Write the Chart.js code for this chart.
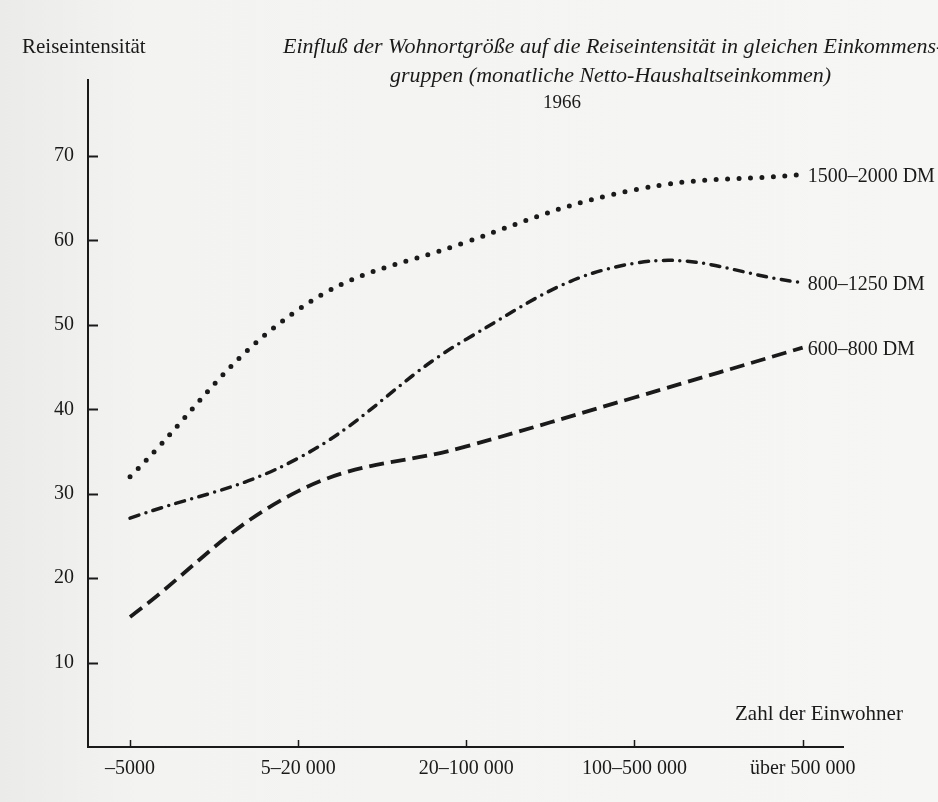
<!DOCTYPE html>
<html>
<head>
<meta charset="utf-8">
<script src="https://cdn.jsdelivr.net/npm/chart.js@4.4.1/dist/chart.umd.min.js"></script>
<style>
html, body { margin: 0; padding: 0; background: #f2f2f0; }
#wrap { width: 938px; height: 802px; }
</style>
</head>
<body>
<div id="wrap"><canvas id="chart" width="938" height="802"></canvas></div>
<script>
// categories: size of town (inhabitants)
var categories = ['\u20135000', '5\u201320 000', '20\u2013100 000', '100\u2013500 000', '\u00fcber 500 000'];
// income groups (monthly net household income)
var groups = ['1500\u20132000 DM', '800\u20131250 DM', '600\u2013800 DM'];
var values1500 = [32.0, 51.8, 59.8, 66.0, 67.8];
var values800 = [27.1, 34.2, 48.3, 57.3, 55.0];
var values600 = [15.4, 30.3, 35.6, 41.4, 47.3];
var yTicks = [10, 20, 30, 40, 50, 60, 70];

var ink = '#1a1a1a';
var serif = '"Liberation Serif", "DejaVu Serif", serif';

function points(vals) {
	return vals.map(function (v, i) { return { x: i, y: v }; });
}

var paperText = {
	id: 'paperText',
	beforeDraw: function (chart) {
		var ctx = chart.ctx, g = ctx.createLinearGradient(0, 0, chart.width, 0);
		g.addColorStop(0, '#ebebea');
		g.addColorStop(0.15, '#f3f3f2');
		g.addColorStop(1, '#f6f6f5');
		ctx.save();
		ctx.fillStyle = g;
		ctx.fillRect(0, 0, chart.width, chart.height);
		ctx.restore();
	},
	afterDraw: function (chart) {
		var ctx = chart.ctx, area = chart.chartArea,
			xs = chart.scales.x, ys = chart.scales.y;
		ctx.save();
		ctx.strokeStyle = ink;
		ctx.fillStyle = ink;
		// inward tick marks
		ctx.lineWidth = 2;
		yTicks.forEach(function (v) {
			var y = Math.round(ys.getPixelForValue(v)) + 0.5;
			ctx.beginPath(); ctx.moveTo(area.left, y); ctx.lineTo(area.left + 10, y); ctx.stroke();
		});
		ctx.lineWidth = 1.5;
		categories.forEach(function (c, i) {
			var x = Math.round(xs.getPixelForValue(i)) + 0.5;
			ctx.beginPath(); ctx.moveTo(x, area.bottom); ctx.lineTo(x, area.bottom - 7); ctx.stroke();
		});
		// series labels at the line ends
		ctx.font = '20px ' + serif;
		ctx.textBaseline = 'middle';
		ctx.textAlign = 'left';
		chart.data.datasets.forEach(function (ds, i) {
			var meta = chart.getDatasetMeta(i), last = meta.data[meta.data.length - 1];
			ctx.fillText(ds.label, last.x + 5, last.y + 2);
		});
		// axis titles
		ctx.font = '21px ' + serif;
		ctx.fillText('Reiseintensit\u00e4t', 22, 47);
		ctx.fillText('Zahl der Einwohner', 735, 714);
		// heading
		ctx.font = 'italic 22px ' + serif;
		ctx.fillText('Einflu\u00df der Wohnortgr\u00f6\u00dfe auf die Reiseintensit\u00e4t in gleichen Einkommens-', 283, 47);
		ctx.fillText('gruppen (monatliche Netto-Haushaltseinkommen)', 390, 76);
		ctx.font = '19px ' + serif;
		ctx.textAlign = 'center';
		ctx.fillText('1966', 562, 103);
		ctx.restore();
	}
};

Chart.defaults.font.family = serif;
Chart.defaults.font.size = 20;
Chart.defaults.color = ink;

new Chart(document.getElementById('chart'), {
	type: 'line',
	data: {
		datasets: [
			{
				label: groups[0],
				data: points(values1500),
				borderColor: ink,
				borderWidth: 5,
				borderDash: [0, 11.5],
				borderCapStyle: 'round',
				tension: 0.4
			},
			{
				label: groups[1],
				data: points(values800),
				borderColor: ink,
				borderWidth: 3.5,
				borderDash: [9, 7.5, 0, 7.5],
				borderCapStyle: 'round',
				tension: 0.4
			},
			{
				label: groups[2],
				data: points(values600),
				borderColor: ink,
				borderWidth: 3.8,
				borderDash: [15, 7],
				borderCapStyle: 'butt',
				tension: 0.4
			}
		]
	},
	options: {
		responsive: false,
		animation: false,
		devicePixelRatio: 1,
		layout: { padding: { top: 80, right: 95, left: 0, bottom: 0 } },
		elements: { point: { radius: 0 } },
		plugins: { legend: { display: false }, tooltip: { enabled: false }, title: { display: false } },
		scales: {
			x: {
				type: 'linear',
				min: -0.25,
				max: 4.24,
				grid: { display: false, drawTicks: false },
				border: { display: true, color: ink, width: 2 },
				afterBuildTicks: function (s) {
					s.ticks = categories.map(function (c, i) { return { value: i }; });
				},
				afterFit: function (s) { s.height = 55; },
				ticks: {
					padding: 10,
					autoSkip: false,
					maxRotation: 0,
					callback: function (v) { return categories[v]; }
				}
			},
			y: {
				min: 0,
				max: 79,
				grid: { display: false, drawTicks: false },
				border: { display: true, color: ink, width: 2 },
				afterFit: function (s) { s.width = 88; },
				ticks: {
					stepSize: 10,
					padding: 14,
					callback: function (v) { return (v > 0 && v <= 70 && v % 10 === 0) ? v : ''; }
				}
			}
		}
	},
	plugins: [paperText]
});
</script>
</body>
</html>
